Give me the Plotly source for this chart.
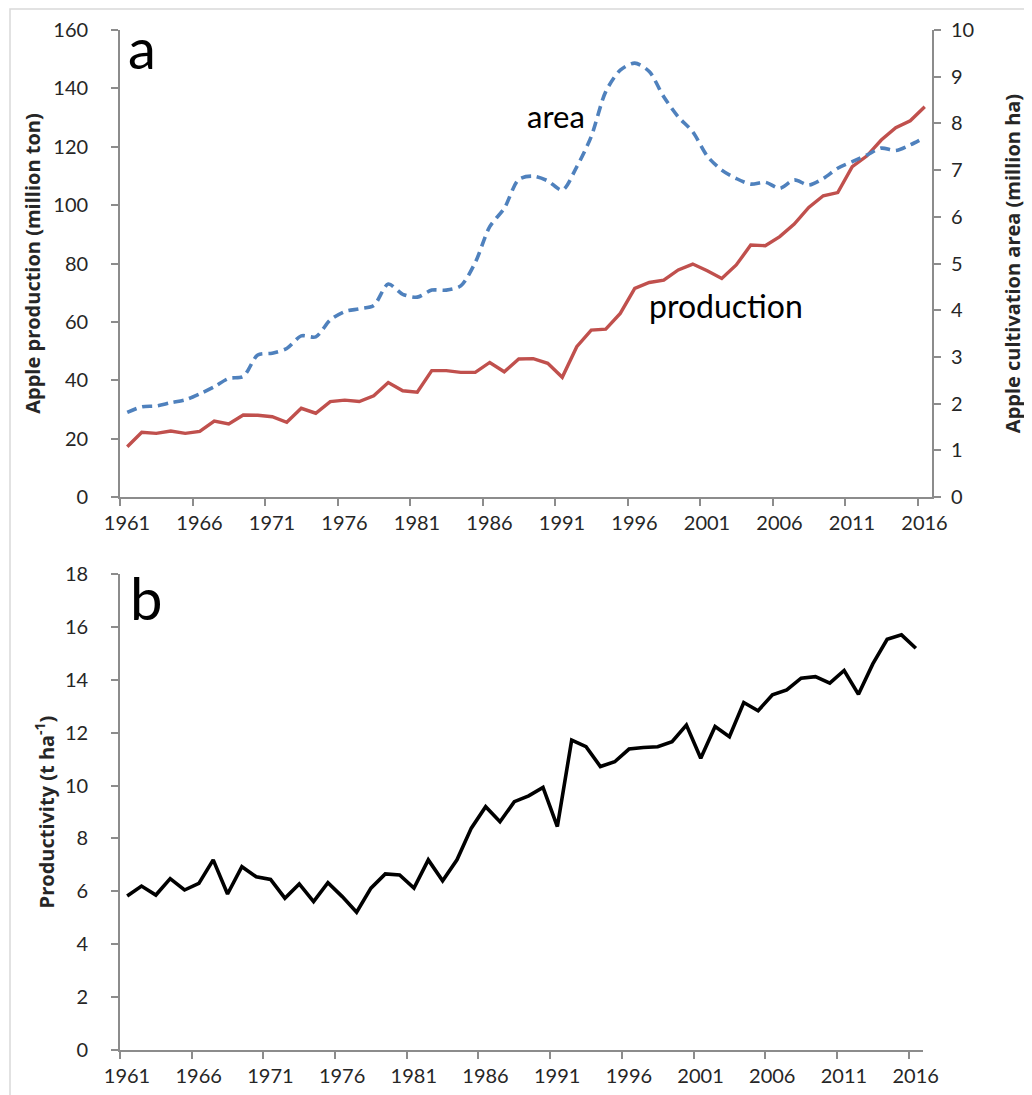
import plotly.graph_objects as go

# yearly series, 1961-2016
years = list(range(1961, 2017))

production_mt = [
    17.2, 22.2, 21.8, 22.6, 21.8, 22.5, 26.0, 25.0, 28.1, 28.0,
    27.5, 25.6, 30.4, 28.7, 32.7, 33.2, 32.7, 34.7, 39.2, 36.4,
    35.9, 43.3, 43.3, 42.7, 42.7, 46.1, 42.9, 47.3, 47.4, 45.8,
    41.0, 51.5, 57.2, 57.5, 62.9, 71.5, 73.5, 74.3, 77.8, 79.8,
    77.5, 74.9, 79.5, 86.3, 86.1, 89.2, 93.5, 99.2, 103.2, 104.3,
    113.2, 116.8, 122.3, 126.5, 128.9, 133.7,
]

area_mha = [
    1.81, 1.93, 1.95, 2.02, 2.08, 2.21, 2.36, 2.54, 2.58, 3.04,
    3.08, 3.18, 3.45, 3.43, 3.79, 3.97, 4.03, 4.10, 4.56, 4.34,
    4.28, 4.43, 4.43, 4.52, 5.02, 5.79, 6.18, 6.80, 6.87, 6.77,
    6.57, 7.07, 7.72, 8.68, 9.14, 9.29, 9.11, 8.57, 8.14, 7.82,
    7.30, 7.00, 6.82, 6.70, 6.74, 6.61, 6.79, 6.68, 6.82, 7.04,
    7.18, 7.32, 7.47, 7.42, 7.54, 7.70,
]

productivity_tha = [
    5.82, 6.20, 5.86, 6.48, 6.05, 6.30, 7.19, 5.90, 6.93, 6.55,
    6.45, 5.74, 6.28, 5.61, 6.33, 5.80, 5.21, 6.12, 6.66, 6.62,
    6.12, 7.19, 6.40, 7.19, 8.39, 9.20, 8.63, 9.39, 9.61, 9.93,
    8.45, 11.72, 11.47, 10.72, 10.90, 11.38, 11.44, 11.47, 11.66, 12.29,
    11.03, 12.23, 11.85, 13.14, 12.83, 13.43, 13.62, 14.06, 14.12, 13.87,
    14.35, 13.45, 14.60, 15.53, 15.70, 15.19,
]

label_years = [1961, 1966, 1971, 1976, 1981, 1986, 1991, 1996, 2001, 2006, 2011, 2016]

FONT = "Lato, Calibri, sans-serif"
TITLE_FONT = "'Open Sans', Calibri, sans-serif"
TXT = "#262626"
AXC = "#8c8c8c"

# page body has an 8px margin, so the figure is drawn 8px smaller and offset
OFF = 8
W, H = 1032 - OFF, 1095 - OFF
ML = 120 - OFF
MT = 30 - OFF
MR = W - (932 - OFF)
MB = H - (1050 - OFF)
PW, PH = W - ML - MR, H - MT - MB

fig = go.Figure()
fig.add_trace(go.Scatter(
    x=years, y=production_mt, mode="lines", xaxis="x", yaxis="y",
    line=dict(color="#C0504D", width=3.4), showlegend=False,
))
fig.add_trace(go.Scatter(
    x=years, y=area_mha, mode="lines", xaxis="x", yaxis="y2",
    line=dict(color="#4F81BD", width=3.6, dash="10px,6px", shape="spline", smoothing=0.8),
    showlegend=False,
))
fig.add_trace(go.Scatter(
    x=years, y=productivity_tha, mode="lines", xaxis="x2", yaxis="y3",
    line=dict(color="#000000", width=3.6), showlegend=False,
))

tick_font = dict(family=FONT, size=20, color=TXT)
title_font = dict(family=TITLE_FONT, size=20, color=TXT, weight="bold")


def xaxis_style(domain, anchor):
    return dict(
        domain=domain, anchor=anchor, range=[1960.5, 2016.5],
        tickvals=[y - 0.5 for y in label_years], ticktext=[str(y) for y in label_years],
        ticks="outside", ticklen=7, tickwidth=1.5, tickcolor=AXC,
        ticklabelshift=7, ticklabelstandoff=0,
        showline=True, linecolor=AXC, linewidth=1.8,
        showgrid=False, zeroline=False, tickfont=tick_font, automargin=False,
    )


def yaxis_style(domain, anchor, rng, dtick, title, side="left", standoff=10, lab_off=19):
    return dict(
        domain=domain, anchor=anchor, range=rng, dtick=dtick, side=side,
        ticks="outside", ticklen=7, tickwidth=1.5, tickcolor=AXC,
        ticklabelstandoff=lab_off,
        showline=True, linecolor=AXC, linewidth=1.8,
        showgrid=False, zeroline=False, tickfont=tick_font, automargin=False,
        title=dict(text=title, font=title_font, standoff=standoff),
    )


top_dom = [(PH - 467) / PH, 1.0]
bot_dom = [0.0, 476 / PH]

fig.update_layout(
    width=W, height=H,
    margin=dict(l=ML, r=MR, t=MT, b=MB),
    template="none",
    paper_bgcolor="white", plot_bgcolor="rgba(0,0,0,0)",
    font=dict(family=FONT, color=TXT),
    xaxis=xaxis_style([0, 1], "y"),
    yaxis=yaxis_style(top_dom, "x", [0, 160], 20, "Apple production (million ton)", standoff=7),
    yaxis2=dict(
        yaxis_style(top_dom, "x", [0, 10], 1, "Apple cultivation area (million ha)",
                    side="right", standoff=33, lab_off=6),
        overlaying="y",
    ),
    xaxis2=xaxis_style([0, (923 - 120) / PW], "y3"),
    yaxis3=yaxis_style(bot_dom, "x2", [0, 18], 2, "Productivity (t ha<sup>-1</sup>)", standoff=5),
    shapes=[dict(
        type="rect", xref="paper", yref="paper",
        x0=(2 - ML) / PW, x1=(W + 20 - ML) / PW,
        y0=-0.1, y1=(PH + MT - 1) / PH,
        line=dict(color="#d9d9d9", width=1.5), fillcolor="rgba(0,0,0,0)", layer="below",
    )],
    annotations=[
        dict(text="a", x=1962.0, y=154, xref="x", yref="y", showarrow=False,
             font=dict(family=FONT, size=56, color="#000")),
        dict(text="area", x=1990.6, y=130.5, xref="x", yref="y", showarrow=False,
             font=dict(family=FONT, size=31, color="#000")),
        dict(text="production", x=2002.3, y=65.5, xref="x", yref="y", showarrow=False,
             font=dict(family=FONT, size=32, color="#000")),
        dict(text="b", x=1962.3, y=17.1, xref="x2", yref="y3", showarrow=False,
             font=dict(family=FONT, size=58, color="#000")),
    ],
)

fig.write_html("out.html")
